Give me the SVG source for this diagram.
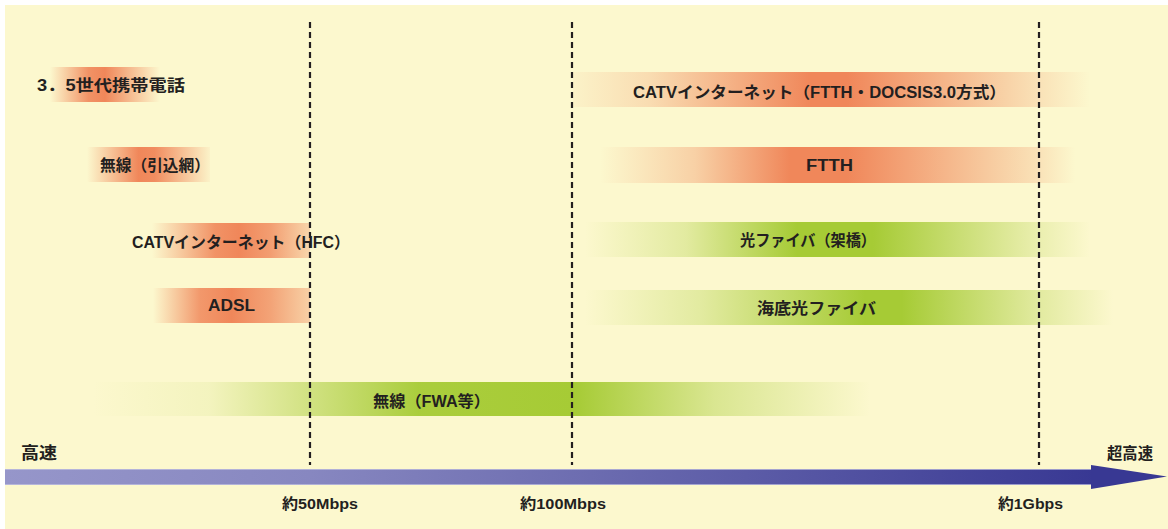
<svg xmlns="http://www.w3.org/2000/svg" width="1168" height="529" viewBox="0 0 1168 529">
<defs>
<style>
.t{font-family:"Liberation Sans","Noto Sans CJK JP",sans-serif;font-weight:bold;fill:#231F20;text-anchor:middle}
.m{font-size:16px}
.a{font-size:15px}
.g{stroke:#231F20;stroke-width:2.2;stroke-dasharray:6 4;fill:none}
</style>
<linearGradient id="o1"><stop offset="0" stop-color="#F0875A" stop-opacity="0"/><stop offset="0.35" stop-color="#F0875A" stop-opacity="0.9"/><stop offset="0.5" stop-color="#F0875A" stop-opacity="1"/><stop offset="1" stop-color="#F0875A" stop-opacity="0"/></linearGradient>
<linearGradient id="o2"><stop offset="0" stop-color="#F0875A" stop-opacity="0"/><stop offset="0.42" stop-color="#F0875A" stop-opacity="1"/><stop offset="0.55" stop-color="#F0875A" stop-opacity="0.95"/><stop offset="1" stop-color="#F0875A" stop-opacity="0.05"/></linearGradient>
<linearGradient id="o3"><stop offset="0" stop-color="#F0875A" stop-opacity="0"/><stop offset="0.4" stop-color="#F0875A" stop-opacity="0.9"/><stop offset="0.55" stop-color="#F0875A" stop-opacity="1"/><stop offset="0.75" stop-color="#F0875A" stop-opacity="0.8"/><stop offset="1" stop-color="#F0875A" stop-opacity="0.3"/></linearGradient>
<linearGradient id="o4"><stop offset="0" stop-color="#F0875A" stop-opacity="0"/><stop offset="0.3" stop-color="#F0875A" stop-opacity="0.85"/><stop offset="0.5" stop-color="#F0875A" stop-opacity="1"/><stop offset="0.75" stop-color="#F0875A" stop-opacity="0.75"/><stop offset="1" stop-color="#F0875A" stop-opacity="0.35"/></linearGradient>
<linearGradient id="o5"><stop offset="0" stop-color="#F0875A" stop-opacity="0.05"/><stop offset="0.15" stop-color="#F0875A" stop-opacity="0.25"/><stop offset="0.46" stop-color="#F0875A" stop-opacity="1"/><stop offset="0.53" stop-color="#F0875A" stop-opacity="1"/><stop offset="0.9" stop-color="#F0875A" stop-opacity="0.2"/><stop offset="1" stop-color="#F0875A" stop-opacity="0"/></linearGradient>
<linearGradient id="o6"><stop offset="0" stop-color="#F0875A" stop-opacity="0"/><stop offset="0.2" stop-color="#F0875A" stop-opacity="0.35"/><stop offset="0.4" stop-color="#F0875A" stop-opacity="1"/><stop offset="0.52" stop-color="#F0875A" stop-opacity="1"/><stop offset="0.92" stop-color="#F0875A" stop-opacity="0.2"/><stop offset="1" stop-color="#F0875A" stop-opacity="0"/></linearGradient>
<linearGradient id="g1"><stop offset="0" stop-color="#A6CB35" stop-opacity="0"/><stop offset="0.2" stop-color="#A6CB35" stop-opacity="0.3"/><stop offset="0.42" stop-color="#A6CB35" stop-opacity="1"/><stop offset="0.57" stop-color="#A6CB35" stop-opacity="1"/><stop offset="0.9" stop-color="#A6CB35" stop-opacity="0.2"/><stop offset="1" stop-color="#A6CB35" stop-opacity="0"/></linearGradient>
<linearGradient id="g2"><stop offset="0" stop-color="#A6CB35" stop-opacity="0"/><stop offset="0.22" stop-color="#A6CB35" stop-opacity="0.3"/><stop offset="0.53" stop-color="#A6CB35" stop-opacity="1"/><stop offset="0.6" stop-color="#A6CB35" stop-opacity="1"/><stop offset="0.86" stop-color="#A6CB35" stop-opacity="0.3"/><stop offset="1" stop-color="#A6CB35" stop-opacity="0"/></linearGradient>
<linearGradient id="g3"><stop offset="0" stop-color="#A6CB35" stop-opacity="0"/><stop offset="0.15" stop-color="#A6CB35" stop-opacity="0.1"/><stop offset="0.28" stop-color="#A6CB35" stop-opacity="0.5"/><stop offset="0.42" stop-color="#A6CB35" stop-opacity="0.95"/><stop offset="0.62" stop-color="#A6CB35" stop-opacity="1"/><stop offset="0.8" stop-color="#A6CB35" stop-opacity="0.4"/><stop offset="1" stop-color="#A6CB35" stop-opacity="0"/></linearGradient>
<linearGradient id="ax" gradientUnits="userSpaceOnUse" x1="5" y1="0" x2="1095" y2="0"><stop offset="0" stop-color="#9696CA"/><stop offset="0.28" stop-color="#8787C0"/><stop offset="0.52" stop-color="#6E6EB1"/><stop offset="1" stop-color="#383893"/></linearGradient>
</defs>
<rect x="0" y="0" width="1168" height="529" fill="#FFFFFF"/>
<rect x="5" y="5" width="1163" height="524" fill="#FCF8CE"/>
<g id="n-35g"><rect x="50" y="67" width="110" height="35" fill="url(#o1)"/><text class="t m" x="111" y="91" textLength="148" lengthAdjust="spacingAndGlyphs">3．5世代携帯電話</text></g>
<g id="n-musen-hikikomi"><rect x="87" y="147" width="123" height="35" fill="url(#o2)"/><text class="t m" x="155" y="171" textLength="110" lengthAdjust="spacingAndGlyphs">無線（引込網）</text></g>
<g id="n-catv-hfc"><rect x="152" y="223" width="158" height="35" fill="url(#o3)"/><text class="t m" x="241" y="248" textLength="218" lengthAdjust="spacingAndGlyphs">CATVインターネット（HFC）</text></g>
<g id="n-adsl"><rect x="153" y="288" width="157" height="35" fill="url(#o4)"/><text class="t m" x="231.5" y="311" textLength="47" lengthAdjust="spacingAndGlyphs">ADSL</text></g>
<g id="n-catv-ftth"><rect x="573" y="72" width="517" height="35" fill="url(#o5)"/><text class="t m" x="819.5" y="98" textLength="373" lengthAdjust="spacingAndGlyphs">CATVインターネット（FTTH・DOCSIS3.0方式）</text></g>
<g id="n-ftth"><rect x="600" y="147" width="475" height="36" fill="url(#o6)"/><text class="t m" x="829.5" y="171" textLength="47" lengthAdjust="spacingAndGlyphs">FTTH</text></g>
<g id="n-hikari-kakyo"><rect x="585" y="222" width="505" height="35" fill="url(#g1)"/><text class="t m" x="808" y="246" textLength="136" lengthAdjust="spacingAndGlyphs">光ファイバ（架橋）</text></g>
<g id="n-kaitei"><rect x="585" y="290" width="528" height="35" fill="url(#g2)"/><text class="t m" x="816.5" y="314" textLength="119" lengthAdjust="spacingAndGlyphs">海底光ファイバ</text></g>
<g id="n-fwa"><rect x="92" y="382" width="778" height="34" fill="url(#g3)"/><text class="t m" x="431.5" y="407" textLength="117" lengthAdjust="spacingAndGlyphs">無線（FWA等）</text></g>
<g id="guides">
<line class="g" x1="310" y1="22" x2="310" y2="465"/>
<line class="g" x1="572" y1="22" x2="572" y2="465"/>
<line class="g" x1="1039" y1="22" x2="1039" y2="465"/>
</g>
<g id="connectors">
<rect x="5" y="469" width="1090" height="16" fill="url(#ax)"/>
<line x1="5" y1="469.5" x2="1092" y2="469.5" stroke="#C4C4E2" stroke-width="1" opacity="0.7"/>
<line x1="5" y1="484.5" x2="1092" y2="484.5" stroke="#C4C4E2" stroke-width="1" opacity="0.7"/>
<polygon points="1091,465 1167,476.5 1091,489" fill="#383893"/>
</g>
<g id="axis-labels">
<text class="t" style="font-size:17px" x="39" y="459" textLength="36" lengthAdjust="spacingAndGlyphs">高速</text>
<text class="t" style="font-size:16px" x="1130" y="459" textLength="46" lengthAdjust="spacingAndGlyphs">超高速</text>
<text class="t a" x="320" y="509" textLength="76" lengthAdjust="spacingAndGlyphs">約50Mbps</text>
<text class="t a" x="563" y="509" textLength="86" lengthAdjust="spacingAndGlyphs">約100Mbps</text>
<text class="t a" x="1030.5" y="509" textLength="65" lengthAdjust="spacingAndGlyphs">約1Gbps</text>
</g>
</svg>
